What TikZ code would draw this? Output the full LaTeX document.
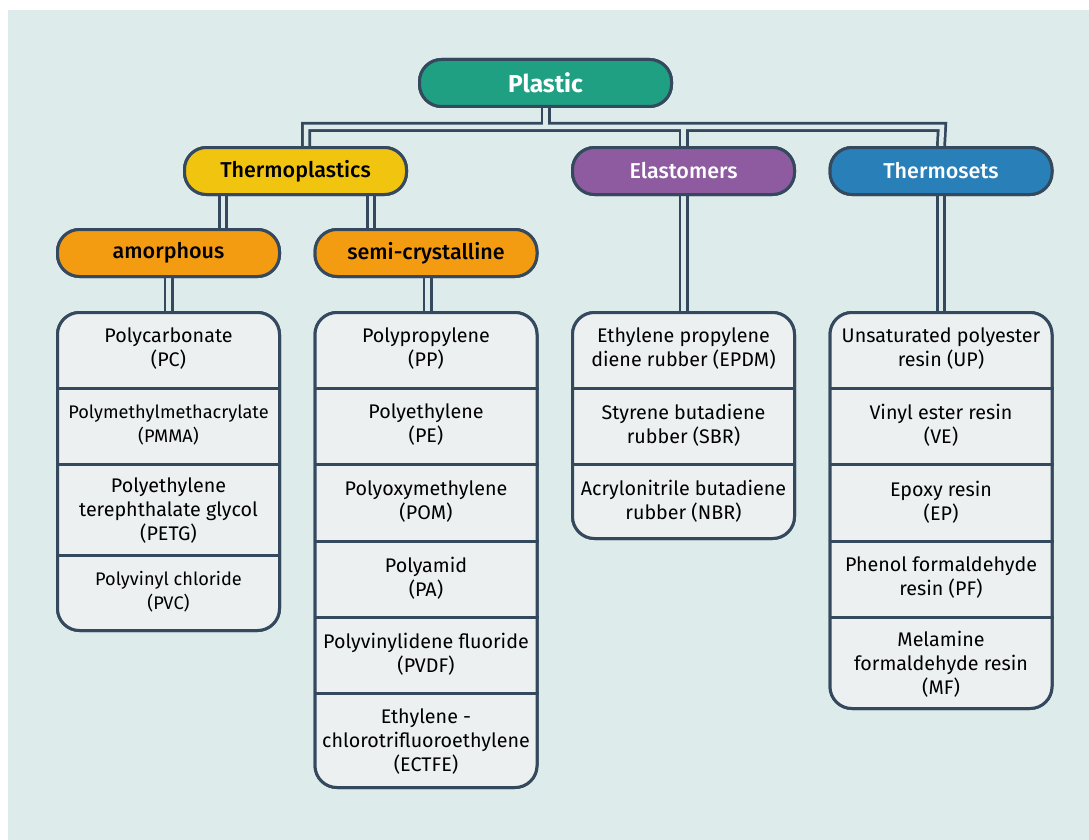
\documentclass[tikz,border=0pt]{standalone}
\usepackage{fontspec}
\setmainfont{Fira Sans}
\newfontfamily\medfont{Fira Sans Medium}
\definecolor{bgc}{HTML}{DDEBEA}
\definecolor{dk}{HTML}{34495E}
\definecolor{boxf}{HTML}{ECF0F1}
\definecolor{tealc}{HTML}{1FA082}
\definecolor{yelc}{HTML}{F1C40F}
\definecolor{orac}{HTML}{F39C12}
\definecolor{purc}{HTML}{8E5BA0}
\definecolor{bluc}{HTML}{2980B9}
\tikzset{
  pill/.style={draw=dk, line width=3pt, rounded corners=22pt, minimum width=222pt, minimum height=47pt, inner sep=0pt, font=\medfont\fontsize{21.5}{24}\selectfont},
  listbox/.style={draw=dk, fill=boxf, line width=3pt, rounded corners=22pt, minimum width=222pt, inner sep=0pt},
  item/.style={align=center, inner sep=0pt, font=\fontsize{19.7}{24}\selectfont},
  smallitem/.style={align=center, inner sep=0pt, font=\fontsize{18.2}{24}\selectfont},
  sep/.style={draw=dk, line width=3pt},
  conout/.style={draw=dk, line width=10pt},
  conin/.style={draw=bgc, line width=4.5pt},
}
\newcommand\myconnectors[1]{%
  \draw[#1] ([xshift=10.5pt]tp.north) -- ([xshift=10.5pt]tp.north |- jl) -- (jr) -- (ts.north);
  \draw[#1] (pl.south) -- (pl.south |- jl);
  \draw[#1] (el.north) -- (el.north |- jl);
  \draw[#1] ([xshift=-72.5pt]tp.south) -- ([xshift=-72.5pt]tp.south |- am.north);
  \draw[#1] ([xshift=75.5pt]tp.south) -- ([xshift=75.5pt]tp.south |- sc.north);
  \draw[#1] (am.south) -- (amL.north);
  \draw[#1] ([xshift=1.5pt]sc.south) -- ([xshift=1.5pt]sc.south |- scL.north);
  \draw[#1] (el.south) -- (elL.north);
  \draw[#1] (ts.south) -- (tsL.north);
}
\begin{document}
\begin{tikzpicture}[x=1pt,y=-1pt]
\useasboundingbox (0,0) rectangle (1089,840);
\fill[bgc] (8,10) rectangle (1089,840);
% coordinates for the junction
\coordinate (jl) at (306,127);
\coordinate (jr) at (942,127);
% header nodes (placed first for naming; drawn later on top)
\path
  (545.5,83) node[pill, minimum width=252pt, minimum height=47pt] (pl) {}
  (295.5,171) node[pill] (tp) {}
  (683.5,171) node[pill] (el) {}
  (941,171) node[pill] (ts) {}
  (168.5,253) node[pill] (am) {}
  (426,253) node[pill] (sc) {};
\path
  (168.5,471.5) node[listbox, minimum height=318pt] (amL) {}
  (426,550) node[listbox, minimum height=475pt] (scL) {}
  (683.5,425.5) node[listbox, minimum height=226pt] (elL) {}
  (941,510.5) node[listbox, minimum height=396pt] (tsL) {};
% connectors
\myconnectors{conout}
\myconnectors{conin}
% headers
\node[pill, fill=tealc, minimum width=252pt, text=white, font=\bfseries\fontsize{24.5}{26}\selectfont] at (pl) {Plastic};
\node[pill, fill=yelc, text=black] at (tp) {Thermoplastics};
\node[pill, fill=purc, text=white] at (el) {Elastomers};
\node[pill, fill=bluc, text=white] at (ts) {Thermosets};
\node[pill, fill=orac, text=black] at (am) {amorphous};
\node[pill, fill=orac, text=black] at (sc) {semi-crystalline};
% list boxes
\node[listbox, minimum height=318pt] at (amL) {};
\node[listbox, minimum height=475pt] at (scL) {};
\node[listbox, minimum height=226pt] at (elL) {};
\node[listbox, minimum height=396pt] at (tsL) {};
% separators
\foreach \yy in {388,464,555} \draw[sep] (amL.west |- 0,\yy) -- (amL.east |- 0,\yy);
\foreach \yy in {388,464,541,617,693} \draw[sep] (scL.west |- 0,\yy) -- (scL.east |- 0,\yy);
\foreach \yy in {388,464} \draw[sep] (elL.west |- 0,\yy) -- (elL.east |- 0,\yy);
\foreach \yy in {388,464,541,617} \draw[sep] (tsL.west |- 0,\yy) -- (tsL.east |- 0,\yy);
% amorphous items
\node[item] (a1) at (168.5,349) {Polycarbonate\\(PC)};
\node[smallitem] (a2) at (168.5,425) {Polymethylmethacrylate\\(PMMA)};
\node[item] (a3) at (168.5,511) {Polyethylene\\terephthalate glycol\\(PETG)};
\node[smallitem] (a4) at (168.5,592) {Polyvinyl chloride\\(PVC)};
% semi-crystalline items
\node[item] (s1) at (426,349) {Polypropylene\\(PP)};
\node[item] (s2) at (426,425) {Polyethylene\\(PE)};
\node[item] (s3) at (426,502) {Polyoxymethylene\\(POM)};
\node[item] (s4) at (426,578) {Polyamid\\(PA)};
\node[item] (s5) at (426,654) {Polyvinylidene fluoride\\(PVDF)};
\node[item] (s6) at (426,742) {Ethylene -\\chlorotrifluoroethylene\\(ECTFE)};
% elastomer items
\node[item] (e1) at (683.5,349) {Ethylene propylene\\diene rubber (EPDM)};
\node[item] (e2) at (683.5,425) {Styrene butadiene\\rubber (SBR)};
\node[item] (e3) at (683.5,501) {Acrylonitrile butadiene\\rubber (NBR)};
% thermoset items
\node[item] (t1) at (941,349) {Unsaturated polyester\\resin (UP)};
\node[item] (t2) at (941,425) {Vinyl ester resin\\(VE)};
\node[item] (t3) at (941,502) {Epoxy resin\\(EP)};
\node[item] (t4) at (941,578) {Phenol formaldehyde\\resin (PF)};
\node[item] (t5) at (941,664) {Melamine\\formaldehyde resin\\(MF)};
\end{tikzpicture}
\end{document}
